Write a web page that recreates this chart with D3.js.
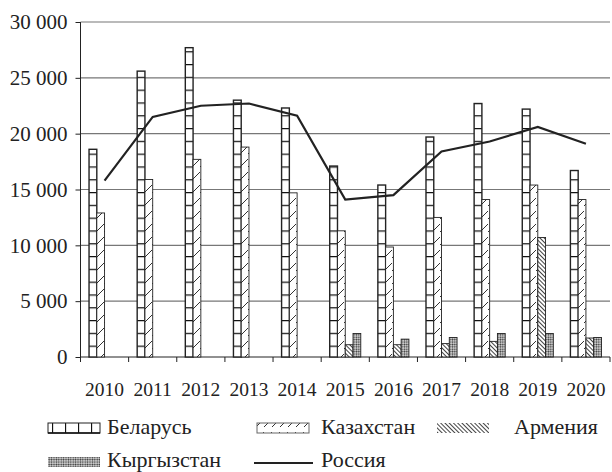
<!DOCTYPE html>
<head>
<style type="text/css">
    body {
      margin: 0;
      background: #fff;
    }
    svg text { fill: #222; font-family: "Liberation Serif", "Times New Roman", serif; }
</style>
</head>
<script src="https://d3js.org/d3.v7.min.js"></script>
<body>
    <svg width="612" height="472"></svg>
    <script>
        // data
        var years = ["2010","2011","2012","2013","2014","2015","2016","2017","2018","2019","2020"];
        var belarus    = [18600, 25600, 27700, 23000, 22300, 17100, 15400, 19700, 22700, 22200, 16700];
        var kazakhstan = [12900, 15900, 17700, 18800, 14700, 11300,  9850, 12500, 14100, 15400, 14100];
        var armenia    = [0, 0, 0, 0, 0, 1100, 1100, 1200, 1400, 10700, 1700];
        var kyrgyzstan = [0, 0, 0, 0, 0, 2100, 1600, 1750, 2100, 2100, 1750];
        var russia     = [15800, 21500, 22500, 22700, 21600, 14100, 14500, 18400, 19300, 20600, 19100];
        var yTicks = [0, 5000, 10000, 15000, 20000, 25000, 30000];

        var barSeries = [
            {name: "Беларусь", values: belarus, fill: "url(#pBelBar)"},
            {name: "Казахстан", values: kazakhstan, fill: "url(#pKaz)"},
            {name: "Армения", values: armenia, fill: "url(#pArm)"},
            {name: "Кыргызстан", values: kyrgyzstan, fill: "url(#pKyr)"}
        ];

        var mLeft = 80.5, mRight = 610, mTop = 22, mBottom = 357;
        var serif = "'Liberation Serif', 'Times New Roman', serif";

        var svg = d3.select("svg");

        var x = d3.scaleBand().domain(years).range([mLeft, mRight]);
        var xs = d3.scaleBand().domain(d3.range(4)).range([0, x.bandwidth()]).paddingOuter(1.1);
        var y = d3.scaleLinear().domain([0, 30000]).range([mBottom, mTop]);

        var fmt = d3.formatLocale({decimal: ",", thousands: " ", grouping: [3], currency: ["", ""]}).format(",d");

        // patterns
        var defs = svg.append("defs");

        var p = defs.append("pattern").attr("id", "pBelBar")
            .attr("patternUnits", "userSpaceOnUse").attr("width", 40).attr("height", 12.8);
        p.append("rect").attr("width", 40).attr("height", 12.8).attr("fill", "#fff");
        p.append("line").attr("x1", 0).attr("x2", 40).attr("y1", 0.5).attr("y2", 0.5)
            .attr("stroke", "#111").attr("stroke-width", 1.3);

        p = defs.append("pattern").attr("id", "pBel")
            .attr("patternUnits", "userSpaceOnUse").attr("width", 13).attr("height", 40);
        p.append("rect").attr("width", 13).attr("height", 40).attr("fill", "#fff");
        p.append("line").attr("x1", 0.5).attr("x2", 0.5).attr("y1", 0).attr("y2", 40)
            .attr("stroke", "#111").attr("stroke-width", 1.3);

        p = defs.append("pattern").attr("id", "pKaz")
            .attr("patternUnits", "userSpaceOnUse").attr("width", 8).attr("height", 13);
        p.append("rect").attr("width", 8).attr("height", 13).attr("fill", "#fff");
        p.append("line").attr("x1", 0).attr("y1", 11).attr("x2", 8).attr("y2", 3)
            .attr("stroke", "#333").attr("stroke-width", 1);

        p = defs.append("pattern").attr("id", "pArm")
            .attr("patternUnits", "userSpaceOnUse").attr("width", 3).attr("height", 3)
            .attr("patternTransform", "rotate(-45)");
        p.append("rect").attr("width", 3).attr("height", 3).attr("fill", "#fff");
        p.append("line").attr("x1", 0.5).attr("x2", 0.5).attr("y1", 0).attr("y2", 3)
            .attr("stroke", "#444").attr("stroke-width", 1);

        p = defs.append("pattern").attr("id", "pKyr")
            .attr("patternUnits", "userSpaceOnUse").attr("width", 2.4).attr("height", 2.4);
        p.append("rect").attr("width", 2.4).attr("height", 2.4).attr("fill", "#ddd");
        p.append("circle").attr("cx", 1.2).attr("cy", 1.2).attr("r", 0.9).attr("fill", "#333");

        // grid
        svg.append("g").selectAll("line")
            .data(yTicks.slice(1))
            .enter().append("line")
            .attr("x1", mLeft).attr("x2", mRight)
            .attr("y1", function(d) { return y(d); }).attr("y2", function(d) { return y(d); })
            .style("stroke", "#777").style("stroke-width", 1.2);

        // y axis
        var yAxis = svg.append("g")
            .attr("transform", "translate(" + mLeft + ",0)")
            .call(d3.axisLeft(y).tickValues(yTicks).tickFormat(fmt).tickSize(5).tickPadding(8));
        yAxis.attr("font-family", null).attr("font-size", null);
        yAxis.selectAll("text").style("font-size", "21px").style("font-family", serif).attr("fill", "#222");
        yAxis.select(".domain").attr("stroke", "#222").attr("d", "M0," + mBottom + "V" + mTop);
        yAxis.selectAll(".tick line").attr("stroke", "#222");

        // x axis
        var xAxis = svg.append("g")
            .attr("transform", "translate(0," + mBottom + ")");
        xAxis.append("line").attr("x1", mLeft).attr("x2", mRight).attr("stroke", "#222");
        xAxis.selectAll(".tk")
            .data(years.concat(["end"]))
            .enter().append("line")
            .attr("x1", function(d, i) { return mLeft + i * x.step(); })
            .attr("x2", function(d, i) { return mLeft + i * x.step(); })
            .attr("y1", 0).attr("y2", 5).attr("stroke", "#222");
        xAxis.selectAll("text")
            .data(years)
            .enter().append("text")
            .attr("x", function(d) { return x(d) + x.bandwidth() / 2; })
            .attr("y", 39)
            .attr("text-anchor", "middle")
            .style("font-size", "19.5px")
            .style("font-family", serif)
            .text(function(d) { return d; });

        // bars
        barSeries.forEach(function(s, si) {
            var rows = years.map(function(yr, i) { return {year: yr, v: s.values[i]}; })
                .filter(function(d) { return d.v > 0; });
            svg.append("g").selectAll("rect")
                .data(rows)
                .enter().append("rect")
                .attr("x", function(d) { return x(d.year) + xs(si); })
                .attr("y", function(d) { return y(d.v); })
                .attr("width", xs.bandwidth())
                .attr("height", function(d) { return mBottom - y(d.v); })
                .attr("fill", s.fill)
                .attr("stroke", "#222")
                .attr("stroke-width", si == 0 ? 1.4 : 0.9);
        });

        // russia line
        var line = d3.line()
            .x(function(d, i) { return x(years[i]) + x.bandwidth() / 2; })
            .y(function(d) { return y(d); });
        svg.append("path")
            .datum(russia)
            .attr("d", line)
            .attr("fill", "none")
            .attr("stroke", "#222")
            .attr("stroke-width", 2.2);

        // legend
        var lg = svg.append("g").style("font-size", "22px").style("font-family", serif);
        function swatch(xp, yp, fill, stroke) {
            lg.append("rect").attr("x", xp).attr("y", yp).attr("width", 52).attr("height", 10)
                .attr("fill", fill).attr("stroke", stroke).attr("stroke-width", 1);
        }
        swatch(48, 423, "url(#pBel)", "#222");
        lg.append("line").attr("x1", 48).attr("x2", 100).attr("y1", 433).attr("y2", 433).attr("stroke", "#111").attr("stroke-width", 1.6);
        lg.append("text").attr("x", 107).attr("y", 434).text(barSeries[0].name);

        swatch(257, 423, "url(#pKaz)", "#666");
        lg.append("text").attr("x", 321).attr("y", 434).text(barSeries[1].name);

        swatch(437, 423, "url(#pArm)", "none");
        lg.append("text").attr("x", 514).attr("y", 434).text(barSeries[2].name);

        swatch(48, 457, "url(#pKyr)", "none");
        lg.append("text").attr("x", 107).attr("y", 467).text(barSeries[3].name);

        lg.append("line").attr("x1", 254).attr("x2", 313).attr("y1", 463).attr("y2", 463)
            .attr("stroke", "#222").attr("stroke-width", 2);
        lg.append("text").attr("x", 321).attr("y", 467).text("Россия");
    </script>
</body>
